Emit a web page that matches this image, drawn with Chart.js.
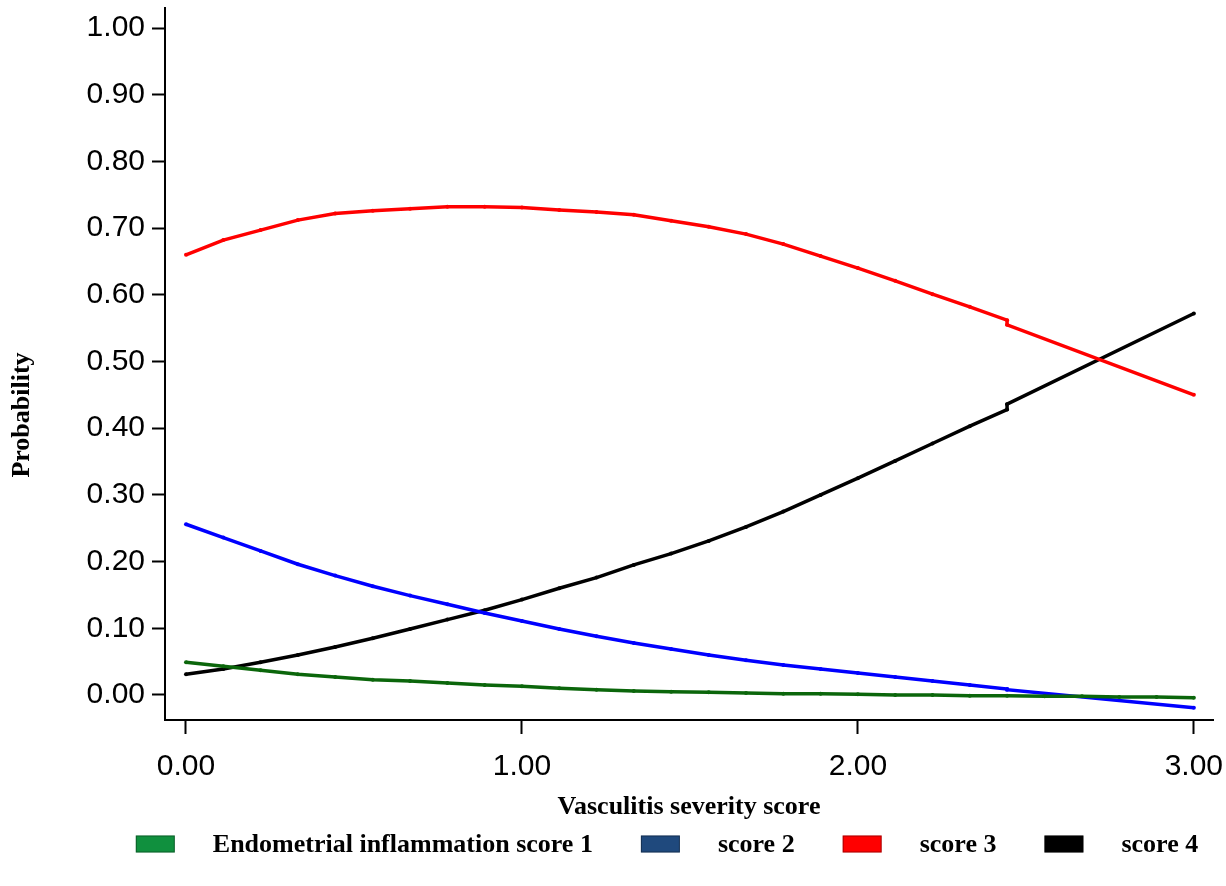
<!DOCTYPE html>
<html>
<head>
<meta charset="utf-8">
<script src="https://cdn.jsdelivr.net/npm/chart.js@4.4.0/dist/chart.umd.min.js"></script>
<style>
  html, body { margin: 0; padding: 0; background: #fff; }
  #wrap { width: 1226px; height: 886px; position: relative; }
</style>
</head>
<body>
<div id="wrap"><canvas id="probChart"></canvas></div>
<script>
// x positions of the predicted points (vasculitis severity score)
const xMain = [0.000, 0.111, 0.222, 0.333, 0.444, 0.556, 0.667, 0.778, 0.889, 1.000,
  1.111, 1.222, 1.333, 1.444, 1.556, 1.667, 1.778, 1.889, 2.000, 2.111,
  2.222, 2.333, 2.444, 2.444, 3.000];
const xGreen = [0.000, 0.111, 0.222, 0.333, 0.444, 0.556, 0.667, 0.778, 0.889, 1.000,
  1.111, 1.222, 1.333, 1.444, 1.556, 1.667, 1.778, 1.889, 2.000, 2.111,
  2.222, 2.333, 2.444, 2.556, 2.667, 2.778, 2.889, 3.000];

// probabilities
const score1 = [0.049, 0.043, 0.037, 0.031, 0.027, 0.023, 0.021, 0.018, 0.015, 0.013,
  0.010, 0.008, 0.006, 0.005, 0.004, 0.003, 0.002, 0.002, 0.001, 0.000,
  0.000, -0.001, -0.001, -0.002, -0.002, -0.003, -0.003, -0.004];
const score2 = [0.256, 0.236, 0.216, 0.196, 0.179, 0.163, 0.149, 0.136, 0.123, 0.111,
  0.099, 0.088, 0.078, 0.069, 0.060, 0.052, 0.045, 0.039, 0.033, 0.027,
  0.021, 0.015, 0.009, 0.008, -0.019];
const score3 = [0.660, 0.682, 0.697, 0.712, 0.722, 0.726, 0.729, 0.732, 0.732, 0.731,
  0.727, 0.724, 0.720, 0.711, 0.702, 0.691, 0.676, 0.658, 0.640, 0.621,
  0.601, 0.582, 0.562, 0.555, 0.450];
const score4 = [0.031, 0.039, 0.049, 0.060, 0.072, 0.085, 0.099, 0.113, 0.127, 0.143,
  0.160, 0.176, 0.195, 0.212, 0.231, 0.252, 0.275, 0.300, 0.325, 0.351,
  0.377, 0.403, 0.428, 0.436, 0.572];

const seriesLabels = ['Endometrial inflammation score 1', 'score 2', 'score 3', 'score 4'];
const lineColors = ['#0b660b', '#0000ff', '#ff0000', '#000000'];
const legendColors = ['#10903e', '#1f497d', '#ff0000', '#000000'];

const xTicks = [0, 1, 2, 3];
const yTicks = [0, 0.1, 0.2, 0.3, 0.4, 0.5, 0.6, 0.7, 0.8, 0.9, 1.0];

const serif = '"Liberation Serif", "Times New Roman", serif';
const sans = '"Liberation Sans", Arial, Helvetica, sans-serif';

const toPoints = (xs, ys) => ys.map((y, i) => ({ x: xs[i], y: y }));

function makeSet(i, xs, ys) {
  return {
    label: seriesLabels[i],
    data: toPoints(xs, ys),
    borderColor: lineColors[i],
    backgroundColor: lineColors[i],
    borderWidth: 3.5,
    pointRadius: 2,
    pointHoverRadius: 2,
    pointBorderWidth: 0,
    tension: 0
  };
}

// axis title on the left + legend row under the chart
const extras = {
  id: 'extras',
  afterDraw(chart) {
    const ctx = chart.ctx;
    ctx.save();
    ctx.fillStyle = '#000';
    ctx.font = 'bold 26px ' + serif;
    ctx.textAlign = 'center';
    ctx.textBaseline = 'middle';
    ctx.translate(22, 415);
    ctx.rotate(-Math.PI / 2);
    ctx.fillText('Probability', 0, 0);
    ctx.restore();

    ctx.save();
    ctx.font = 'bold 26px ' + serif;
    ctx.textBaseline = 'middle';
    ctx.textAlign = 'left';
    const boxW = 39, boxH = 17, gapText = 38, gapItem = 48;
    const widths = seriesLabels.map(t => ctx.measureText(t).width);
    let total = 0;
    widths.forEach((w, i) => { total += boxW + gapText + w + (i < widths.length - 1 ? gapItem : 0); });
    let x = 667 - total / 2;
    const cy = 844;
    seriesLabels.forEach((t, i) => {
      ctx.fillStyle = legendColors[i];
      ctx.fillRect(x, cy - boxH / 2, boxW, boxH);
      ctx.strokeStyle = 'rgba(0,0,0,0.35)';
      ctx.lineWidth = 1;
      ctx.strokeRect(x + 0.5, cy - boxH / 2 + 0.5, boxW - 1, boxH - 1);
      ctx.fillStyle = '#000';
      ctx.fillText(t, x + boxW + gapText, cy + 1);
      x += boxW + gapText + widths[i] + gapItem;
    });
    ctx.restore();
  }
};

const ctx = document.getElementById('probChart').getContext('2d');
const probChart = new Chart(ctx, {
  type: 'line',
  data: {
    datasets: [
      makeSet(0, xGreen, score1),
      makeSet(1, xMain, score2),
      makeSet(2, xMain, score3),
      makeSet(3, xMain, score4)
    ]
  },
  options: {
    responsive: true,
    maintainAspectRatio: false,
    animation: false,
    events: [],
    plugins: {
      legend: { display: false },
      tooltip: { enabled: false }
    },
    layout: {
      padding: { top: 8, right: 13, bottom: 60, left: 0 }
    },
    scales: {
      x: {
        type: 'linear',
        min: -0.0625,
        max: 3.057,
        afterBuildTicks: s => { s.ticks = xTicks.map(v => ({ value: v })); },
        afterFit: s => { s.height = 106; s.paddingLeft = 0; s.paddingRight = 0; },
        ticks: {
          color: '#000',
          font: { family: sans, size: 30 },
          padding: 15,
          maxRotation: 0,
          callback: v => v.toFixed(2)
        },
        grid: {
          drawOnChartArea: false,
          drawTicks: true,
          tickLength: 14,
          tickWidth: 2,
          tickColor: '#000'
        },
        border: { display: true, color: '#000', width: 2 },
        title: {
          display: true,
          text: 'Vasculitis severity score',
          color: '#000',
          font: { family: serif, size: 26, weight: 'bold' },
          padding: { top: 0, bottom: 3 }
        }
      },
      y: {
        type: 'linear',
        min: -0.0375,
        max: 1.03,
        afterBuildTicks: s => { s.ticks = yTicks.map(v => ({ value: v })); },
        afterFit: s => { s.width = 165; s.paddingTop = 0; s.paddingBottom = 0; },
        ticks: {
          color: '#000',
          font: { family: sans, size: 30 },
          padding: 7,
          callback: v => v.toFixed(2)
        },
        grid: {
          drawOnChartArea: false,
          drawTicks: true,
          tickLength: 13,
          tickWidth: 2,
          tickColor: '#000'
        },
        border: { display: true, color: '#000', width: 2 }
      }
    }
  },
  plugins: [extras]
});
</script>
</body>
</html>
